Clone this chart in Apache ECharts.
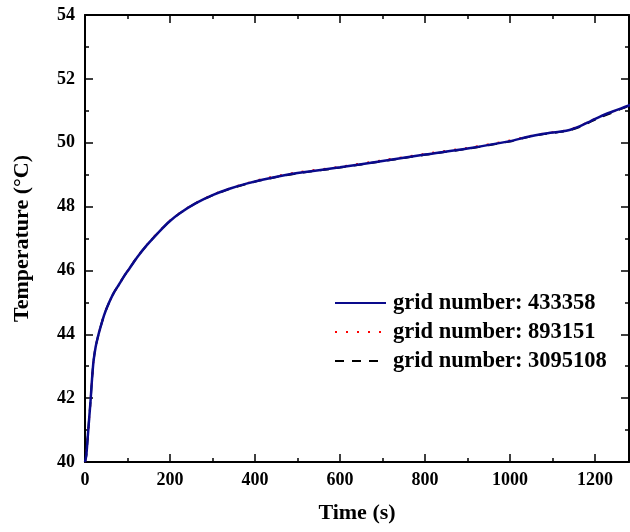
<!DOCTYPE html>
<html>
<head>
<meta charset="utf-8">
<script src="https://cdn.jsdelivr.net/npm/echarts@6/dist/echarts.min.js"></script>
<style>
  html, body { margin: 0; padding: 0; background: #fff; }
  #chart { width: 630px; height: 532px; }
</style>
</head>
<body>
<div id="chart"></div>
<script>
const timeValues = [0, 3, 6, 10, 13, 16, 20, 25, 30, 36, 45, 52, 67, 80, 91, 105, 122, 146, 177, 200,
  224, 260, 300, 340, 380, 420, 460, 500, 600, 700, 800, 900, 1000, 1040, 1080, 1120, 1140, 1165,
  1190, 1212, 1240, 1260, 1283];
const tempGrid433358 = [40.0, 40.2, 40.7, 41.4, 41.9, 42.5, 43.15, 43.6, 43.9, 44.2, 44.6, 44.85, 45.28, 45.56,
  45.8, 46.07, 46.4, 46.8, 47.25, 47.55, 47.8, 48.1, 48.36, 48.56, 48.72, 48.85, 48.96, 49.05, 49.23,
  49.43, 49.63, 49.82, 50.05, 50.18, 50.28, 50.35, 50.4, 50.52, 50.68, 50.82, 50.97, 51.07, 51.18];
const tempGrid893151 = [40.0, 40.2, 40.7, 41.4, 41.9, 42.5, 43.15, 43.6, 43.9, 44.2, 44.6, 44.85, 45.28, 45.56,
  45.8, 46.07, 46.41, 46.81, 47.26, 47.56, 47.81, 48.11, 48.37, 48.57, 48.73, 48.87, 48.98, 49.07, 49.25,
  49.45, 49.65, 49.84, 50.07, 50.19, 50.29, 50.36, 50.41, 50.53, 50.69, 50.81, 50.96, 51.07, 51.18];
const tempGrid3095108 = [40.0, 40.2, 40.7, 41.4, 41.9, 42.5, 43.15, 43.6, 43.9, 44.2, 44.6, 44.85, 45.28, 45.56,
  45.8, 46.07, 46.4, 46.8, 47.25, 47.55, 47.8, 48.1, 48.35, 48.55, 48.71, 48.84, 48.95, 49.04, 49.22,
  49.42, 49.62, 49.81, 50.04, 50.17, 50.27, 50.34, 50.39, 50.5, 50.66, 50.79, 50.94, 51.05, 51.17];
const xTicks = [0, 200, 400, 600, 800, 1000, 1200];
const yTicks = [40, 42, 44, 46, 48, 50, 52, 54];

const FONT = '"Liberation Serif", "Times New Roman", serif';
const pairs = ys => timeValues.map((t, i) => [t, ys[i]]);

const axisLine = { show: true, onZero: false, lineStyle: { color: '#000', width: 2 } };
const tick = { show: true, inside: true, length: 8, lineStyle: { color: '#000', width: 1.5 } };
const minor = { show: true, splitNumber: 2, length: 4, lineStyle: { color: '#000', width: 1.5 } };

const chart = echarts.init(document.getElementById('chart'));
chart.setOption({
  animation: false,
  backgroundColor: '#fff',
  grid: { left: 85, top: 15, width: 544, height: 447 },
  legend: {
    orient: 'vertical',
    left: 334,
    top: 291,
    padding: 0,
    itemWidth: 51,
    itemHeight: 14,
    itemGap: 5,
    itemStyle: { opacity: 0 },
    textStyle: {
      fontFamily: FONT, fontWeight: 'bold', fontSize: 22.5, color: '#000', lineHeight: 24,
      padding: [0, 0, 0, 2]
    },
    data: ['grid number: 433358', 'grid number: 893151', 'grid number: 3095108']
  },
  xAxis: [{
    type: 'value', min: 0, max: 1280, interval: 200,
    name: 'Time (s)', nameLocation: 'middle', nameGap: 40,
    nameTextStyle: { fontFamily: FONT, fontWeight: 'bold', fontSize: 22, color: '#000' },
    axisLine, axisTick: tick, minorTick: minor, splitLine: { show: false },
    axisLabel: {
      margin: 9, fontFamily: FONT, fontWeight: 'bold', fontSize: 18, color: '#000',
      showMaxLabel: false,
      formatter: v => xTicks.includes(v) ? String(v) : ''
    }
  }, {
    type: 'value', position: 'top', min: 0, max: 1280, interval: 200,
    axisLine, axisTick: tick, minorTick: minor, splitLine: { show: false },
    axisLabel: { show: false }
  }],
  yAxis: [{
    type: 'value', min: 40, max: 54, interval: 2,
    name: 'Temperature (°C)', nameLocation: 'middle', nameGap: 52,
    nameTextStyle: { fontFamily: FONT, fontWeight: 'bold', fontSize: 22, color: '#000' },
    axisLine, axisTick: tick, minorTick: minor, splitLine: { show: false },
    axisLabel: {
      margin: 10, fontFamily: FONT, fontWeight: 'bold', fontSize: 18, color: '#000',
      formatter: v => yTicks.includes(v) ? String(v) : ''
    }
  }, {
    type: 'value', position: 'right', min: 40, max: 54, interval: 2,
    axisLine, axisTick: tick, minorTick: minor, splitLine: { show: false },
    axisLabel: { show: false }
  }],
  series: [{
    name: 'grid number: 433358', type: 'line', data: pairs(tempGrid433358),
    symbol: 'none', smooth: 0.3, z: 5,
    lineStyle: { color: '#0a0a8c', width: 2.5 }, itemStyle: { color: '#0a0a8c' }
  }, {
    name: 'grid number: 893151', type: 'line', data: pairs(tempGrid893151),
    symbol: 'none', smooth: 0.3, z: 3,
    lineStyle: { color: '#ff0000', width: 2, type: [2, 9] }, itemStyle: { color: '#ff0000' }
  }, {
    name: 'grid number: 3095108', type: 'line', data: pairs(tempGrid3095108),
    symbol: 'none', smooth: 0.3, z: 4,
    lineStyle: { color: '#000', width: 2, type: [9, 8] }, itemStyle: { color: '#000' }
  }]
});
</script>
</body>
</html>
